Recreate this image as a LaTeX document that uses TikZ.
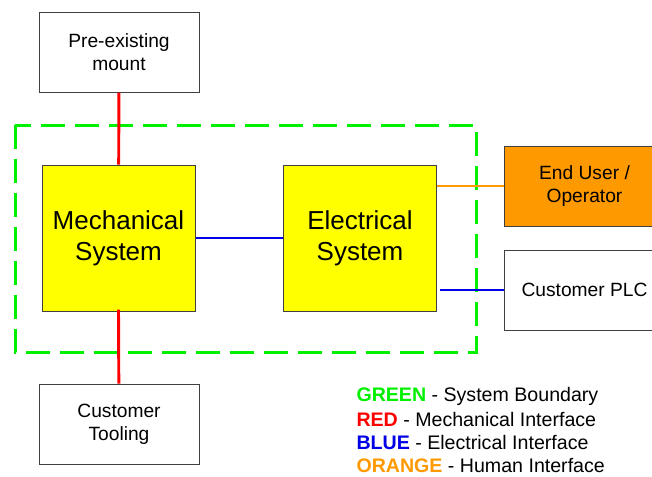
\documentclass[tikz,border=0pt]{standalone}
\usepackage{fontspec}
\setmainfont{Liberation Sans}
\usetikzlibrary{positioning}

\definecolor{bndgreen}{RGB}{0,240,0}
\definecolor{mechred}{RGB}{255,0,0}
\definecolor{elecblue}{RGB}{0,0,230}
\definecolor{humorange}{RGB}{255,153,0}
\definecolor{sysyellow}{RGB}{255,255,0}
\definecolor{boxgray}{RGB}{64,64,64}

\tikzset{every picture/.style={line width=0.75pt}}
\tikzset{
  plainbox/.style={draw=boxgray, fill=white, minimum width=120pt, minimum height=60pt, inner sep=0pt, align=center, font=\fontsize{14.4}{17.25}\selectfont},
  sysbox/.style={draw=boxgray, fill=sysyellow, minimum width=114.75pt, minimum height=109.5pt, inner sep=0pt, align=center, font=\fontsize{19.5}{23.25}\selectfont},
  legendtext/.style={anchor=west, inner sep=0pt, font=\fontsize{14.7}{17}\selectfont},
  link/.style={line width=2.2pt},
}

\begin{document}
\begin{tikzpicture}[x=0.75pt,y=0.75pt,yscale=-1]
\useasboundingbox (0,0) rectangle (652,476);

%System boundary
\draw [bndgreen, line width=2.25pt, dash pattern=on 18pt off 7.5pt] (15,125) rectangle (476,352);

% Boxes
\node [plainbox] (mount) at (119,52) {Pre-existing\\mount};
\node [sysbox] (mech) at (118.5,238) {Mechanical\\System};
\node [sysbox] (elec) at (360,238) {Electrical\\System};
\node [plainbox] (tooling) at (119,424) {Customer\\Tooling};
\node [plainbox, fill=humorange, minimum width=127.5pt, anchor=west] (user) at (504,186) {\hspace*{-7.5pt}End User /\\\hspace*{-7.5pt}Operator};
\node [plainbox, minimum width=127.5pt, anchor=west] (plc) at (504,290) {\hspace*{-7.5pt}Customer PLC};

% Interfaces
\draw [mechred, link] (mount) -- (mech);
\draw [mechred, link] ([yshift=-1.5pt]mech.south) -- (tooling);
\draw [elecblue, link] (mech) -- (elec);
\draw [humorange, link] (user.west) -- (user.west -| elec.east);
\draw [elecblue, link] (plc.west) -- ([xshift=2pt]plc.west -| elec.east);

% Legend
\node [legendtext] (lgreen) at (356,396) {\textcolor{bndgreen}{\textbf{GREEN}} - System Boundary};
\node [legendtext] (lred) at (356,419) {\textcolor{mechred}{\textbf{RED}} - Mechanical Interface};
\node [legendtext] (lblue) at (356,442) {\textcolor{elecblue}{\textbf{BLUE}} - Electrical Interface};
\node [legendtext] (lorange) at (356,465) {\textcolor{humorange}{\textbf{ORANGE}} - Human Interface};

\end{tikzpicture}
\end{document}
